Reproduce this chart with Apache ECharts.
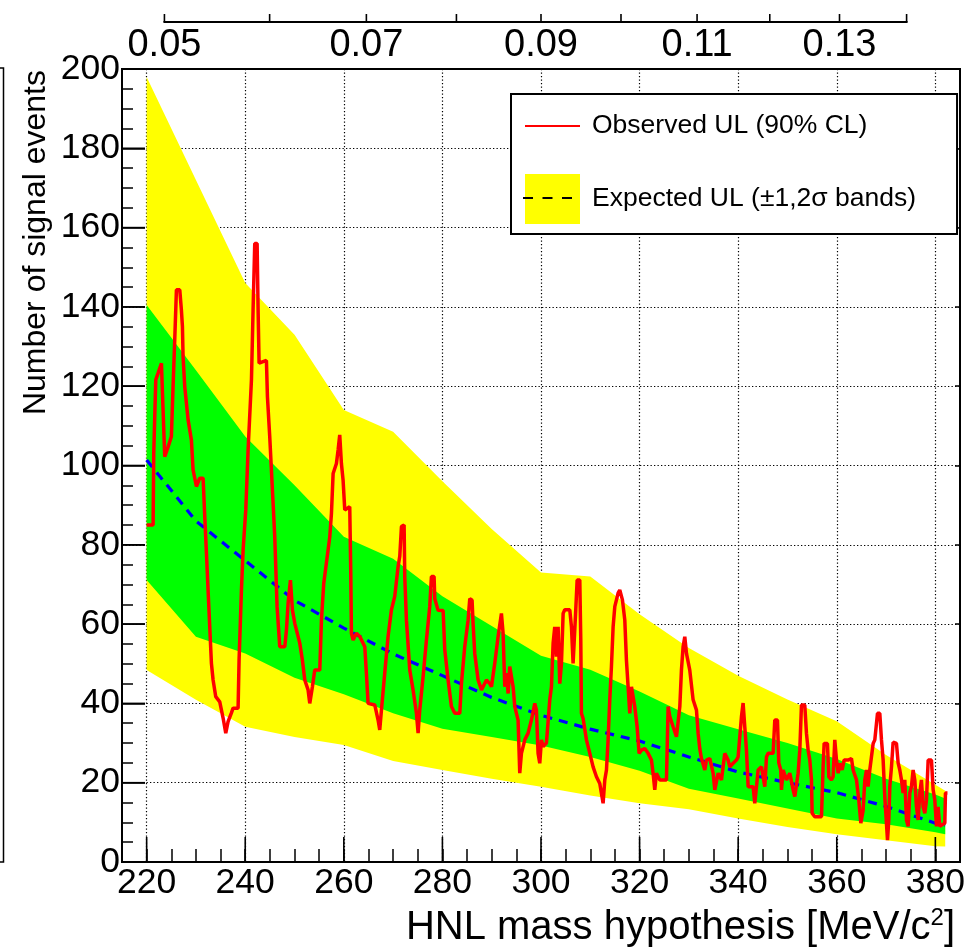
<!DOCTYPE html>
<html><head><meta charset="utf-8">
<script src="https://cdn.jsdelivr.net/npm/echarts@6/dist/echarts.min.js"></script>
<style>html,body{margin:0;padding:0;background:#fff}#c{width:971px;height:951px}</style>
</head><body><div id="c"></div>
<script>
// ---------------- data ----------------
const bandMass = [220,230,240,250,260,270,280,290,300,310,320,330,340,350,360,370,380,382];
const yellowHi = [198,172,146,133,114,108.5,96,84,73,72,62.5,54,47,41,35.5,27,19.5,18];
const greenHi  = [140.5,124,107.3,95,82,76.5,67,59.5,52,48.5,43,37,33.5,30,26,21,17,16];
const expected = [101.4,86,76,66,59,52.5,47,41.5,37,33.5,30.5,26.5,22.7,20,17.5,14,9.8,9.3];
const greenLo  = [71.1,56.8,52.6,46.5,42.3,37.5,33.6,31.5,29.4,26.5,23,18.5,16,13.5,11,9.5,7.5,7];
const yellowLo = [48.4,40.9,34.1,31.5,29.5,25.5,23.2,21,19,16.8,14.8,13.3,11,8.8,7,5.5,4,3.9];

const obsMass = [
 220.0,221.31,221.44,221.85,222.32,223.0,223.33,223.67,224.35,225.02,225.36,225.7,226.04,226.72,227.05,227.26,227.39,227.73,228.41,229.08,
 229.42,230.1,230.77,231.45,231.79,232.13,232.46,232.8,233.14,233.48,234.02,234.83,235.51,236.05,236.52,237.2,237.53,238.55,238.75,239.23,
 239.57,240.11,240.58,241.26,241.59,241.93,242.41,242.61,242.81,244.3,244.5,244.97,245.65,245.99,246.46,247.0,248.02,248.36,248.69,249.17,
 249.57,250.05,251.06,251.6,252.08,252.75,253.09,253.63,254.1,255.12,255.46,255.93,257.15,257.49,257.83,
 258.5,258.84,259.17,259.51,259.85,260.19,260.53,261.2,261.41,261.54,261.88,262.56,263.23,264.25,264.58,264.92,266.28,266.95,267.29,267.63,
 268.3,268.98,269.66,270.33,271.01,271.35,271.69,272.23,272.36,272.7,273.38,274.05,274.73,275.07,275.4,276.08,276.76,277.43,277.77,278.31,
 278.45,279.12,280.14,280.48,281.15,281.83,282.51,283.52,283.86,284.53,285.21,285.55,286.02,286.22,286.56,287.24,287.92,288.93,289.61,289.95,
 290.62,291.3,291.97,292.31,292.65,292.99,293.33,293.66,294.34,294.68,295.35,295.69,296.03,296.71,297.38,298.06,298.74,299.07,299.41,299.75,
 300.09,300.43,301.1,
 301.78,302.12,302.46,302.79,303.13,303.47,303.81,304.15,304.49,304.82,305.84,306.18,306.51,306.72,307.05,307.33,307.87,308.07,308.2,308.54,
 309.22,309.9,310.57,311.25,311.92,312.6,312.94,313.28,313.61,313.95,314.29,314.63,314.97,315.64,315.98,316.52,317.0,317.33,317.67,318.01,
 318.35,318.69,319.02,319.5,319.9,320.38,321.05,321.73,322.41,322.74,323.08,323.42,324.1,325.45,325.79,326.13,326.8,327.48,328.16,328.49,
 328.83,329.17,329.51,330.18,330.86,331.54,331.87,332.21,332.55,333.23,333.56,334.24,334.92,335.26,335.93,336.61,337.28,337.96,338.3,338.98,
 339.65,339.99,340.67,341.0,341.34,341.68,342.02,343.03,343.37,
 344.05,344.72,345.06,345.4,345.74,346.08,347.09,347.43,347.97,348.24,348.64,348.78,349.12,349.79,350.47,351.15,351.49,352.16,352.5,352.84,
 353.51,353.85,354.19,354.53,354.87,355.0,355.54,356.9,357.23,357.44,358.11,358.38,358.92,359.26,359.6,359.94,360.28,360.61,361.09,361.49,
 362.31,362.98,363.32,364.0,364.47,364.88,365.35,365.69,366.03,366.36,366.7,367.38,367.72,368.26,368.73,369.07,369.41,369.74,370.08,370.29,
 370.56,370.76,371.1,371.43,372.11,372.45,372.79,373.13,373.46,373.8,374.14,374.48,374.82,375.15,375.49,375.83,376.17,376.51,376.85,377.18,
 377.52,377.86,378.2,378.54,379.21,379.55,379.89,380.23,380.56,380.9,381.24,381.92,382.05,382.46
];
const obsValue = [
 85.0,85.0,103,121.6,123.3,125.8,114,102.2,104.7,107.3,119.9,131.7,144.3,144.3,139.2,135,127.4,119.9,111.5,106.4,
 98.9,94.7,96.8,96.8,87.1,77.9,68.6,59.3,50.1,45.9,41.7,40.4,36.3,32.5,35.4,37.6,38.8,38.8,50.9,68.6,
 78.7,88.8,103.9,121.6,139.2,156,156,139.2,125.8,126.5,117.4,107.3,90.5,82,64.4,54.3,54.3,58.5,65.2,71.1,
 63.6,60.2,55.2,50.9,45.9,43.4,40,44.2,48.4,48.4,61,70.3,82,87.9,98,
 100.5,103.9,107.7,100.5,96.3,88.8,88.8,89.6,72.8,57.7,56,57.7,56.9,54.3,47.6,40,39.6,35.8,33.3,38.3,
 47.6,56.9,63.6,67,74.5,77.1,84.6,85,72,61,48.4,43.4,37.5,32.5,38.3,46.7,56,64.4,72,72,
 66.4,63.5,63.4,53.5,45.9,39.2,37.5,37.5,45,54.3,61,66.4,66,60.2,52.6,45.9,43.4,45.9,45,44.2,
 50.1,56.9,62.7,57.7,44.2,47.6,42.5,49.3,44.2,39.2,35.8,22.4,27.4,30.8,32.5,35.8,40,38.3,27.4,24.9,
 30.8,29.1,30,
 40.9,44.2,55.2,59.3,51.8,59.3,45,50.1,62.7,63.6,63.6,59.3,50.1,55.2,63.6,71.1,71.1,56,37.5,36.2,
 30.8,27.4,24,21.5,19.8,14.8,20.7,23.2,30.8,40.9,49.3,59.3,64.4,67.8,68.6,66.1,61,50.9,44.2,37.5,
 44.2,44.2,39.2,34.1,27.4,28.2,28.6,27.4,25.7,22.4,18.2,22.4,20.7,20.7,39.2,36.7,34.1,31.6,39.2,48.4,
 54.3,56.8,52.6,48.4,40.9,38.3,32.5,28.6,26.1,23.2,25.7,26.1,22.4,18.2,22.4,20.7,27.4,25.7,24,24.9,
 25.7,26.5,36.7,40.1,34.1,28.2,19,19,14.8,
 23.2,24,21.5,19,26.5,27.4,27.4,35.8,35.8,25,23.2,18.2,23.2,20.7,22.4,18.2,16.5,22.4,28.2,39.6,
 39.6,32.5,28.2,25.7,20.7,12.3,11.4,11.4,24,29.9,29.9,21.5,20.7,21.5,30.8,25.7,22.4,24.9,23.2,25.7,
 25.7,26.1,23.2,20.7,15.6,9.8,13,20.7,23.2,19,23.2,29.9,30.8,37.5,37.5,30.8,25.7,16.5,9.8,5.5,
 10.6,19,24,30.2,29.9,25,23.2,20.7,17.4,20.7,10.6,9,17.4,19,23.2,20.7,13.9,10.6,17.4,20.7,
 13.9,12.3,15.6,25.7,25.7,18.2,15.6,9,13.9,9,9,9.8,17.4,17.4
];

const xTicks = [220,240,260,280,300,320,340,360,380];
const yTicks = [0,20,40,60,80,100,120,140,160,180,200];
const xMin = 215, xMax = 385, yMin = 0, yMax = 200, yStep = 20;
const topTickLabels = [0.05,0.06,0.07,0.08,0.09,0.10,0.11,0.12,0.13,0.14];
const topShownLabels = [0.05,0.07,0.09,0.11,0.13];

const FONT = 'Liberation Sans, Arial, Helvetica, sans-serif';
// top axis is in m^2 (GeV^2): position on the mass axis is 1000*sqrt(v)
const toMass = v => 1000 * Math.sqrt(v);
const topTickMass = topTickLabels.map(toMass);
const topLabelMass = topShownLabels.map(toMass);
const TOP_OFFSET = 47;

const chart = echarts.init(document.getElementById('c'), null, {renderer: 'canvas'});

function bandSeries(name, hi, lo, color, z) {
  return {
    type: 'custom', name: name, coordinateSystem: 'cartesian2d', xAxisIndex: 0, yAxisIndex: 0,
    z: z, silent: true, animation: false, clip: true,
    itemStyle: {color: color},
    data: bandMass.map((m, i) => [m, lo[i], hi[i]]),
    renderItem: function (params, api) {
      if (params.dataIndex !== 0) return null;
      const pts = [];
      for (let i = 0; i < bandMass.length; i++) pts.push(api.coord([bandMass[i], hi[i]]));
      for (let i = bandMass.length - 1; i >= 0; i--) pts.push(api.coord([bandMass[i], lo[i]]));
      return {type: 'polygon', shape: {points: pts}, style: {fill: color, stroke: null}};
    }
  };
}

// major tick marks drawn through the axes' scales
function tickSeries(name, data, build) {
  return {
    type: 'custom', name: name, coordinateSystem: 'cartesian2d', xAxisIndex: 0, yAxisIndex: 0,
    z: 10, silent: true, animation: false, clip: false, data: data,
    renderItem: function (params, api) {
      const c = api.coord([api.value(0), api.value(1)]);
      const s = build(c);
      return {type: 'line', shape: s, style: {stroke: '#000', lineWidth: 1.6}};
    }
  };
}

const dotted = {color: '#000', width: 1.2, type: [1.3, 2.2]};

const option = {
  animation: false,
  backgroundColor: '#fff',
  grid: {left: 122, right: 11, top: 69, bottom: 89, show: true, borderColor: '#000', borderWidth: 2, backgroundColor: 'transparent'},
  legend: {
    orient: 'vertical', left: 511, top: 94,
    padding: [12, 41, 10, 13], itemWidth: 55, itemHeight: 50, itemGap: 28,
    backgroundColor: '#fff', borderColor: '#000', borderWidth: 2,
    textStyle: {fontFamily: FONT, fontSize: 26.5, color: '#000', padding: [0, 0, 0, 7]},
    data: [
      {name: 'Observed UL (90% CL)', itemStyle: {opacity: 0}},
      {name: 'Expected UL (\u00b11,2\u03c3 bands)', icon: 'rect', itemStyle: {color: '#ffff00'}}
    ],
    selectedMode: false
  },
  xAxis: [
    { // main mass axis
      type: 'value', gridIndex: 0, min: xMin, max: xMax, position: 'bottom',
      axisLine: {show: true, onZero: false, lineStyle: {color: '#000', width: 2}},
      axisTick: {show: false, customValues: xTicks},
      axisLabel: {show: true, customValues: xTicks, fontFamily: FONT, fontSize: 35.5, color: '#000', margin: 3},
      splitLine: {show: true, lineStyle: dotted}
    },
    { // minor ticks every 5
      type: 'value', gridIndex: 0, min: xMin, max: xMax, interval: 5, position: 'bottom',
      axisLine: {show: false}, axisLabel: {show: false}, splitLine: {show: false},
      axisTick: {show: true, inside: true, length: 13, lineStyle: {color: '#000', width: 1.5}}
    },
    { // top axis (m^2)
      type: 'value', gridIndex: 0, min: xMin, max: xMax, position: 'top', offset: TOP_OFFSET,
      axisLine: {show: false}, splitLine: {show: false},
      axisTick: {show: false},
      axisLabel: {show: true, inside: true, customValues: topLabelMass, margin: 5,
        fontFamily: FONT, fontSize: 38, color: '#000',
        formatter: v => Math.pow(v / 1000, 2).toFixed(2)}
    }
  ],
  yAxis: [
    {
      type: 'value', gridIndex: 0, min: yMin, max: yMax, interval: yStep, position: 'left',
      axisLine: {show: true, onZero: false, lineStyle: {color: '#000', width: 2}},
      axisTick: {show: true, inside: true, length: 23, lineStyle: {color: '#000', width: 1.5}},
      minorTick: {show: true, splitNumber: 4, length: 11, lineStyle: {color: '#000', width: 1.5}},
      axisLabel: {show: true, fontFamily: FONT, fontSize: 35.5, color: '#000', margin: 2},
      splitLine: {show: true, lineStyle: dotted}
    },
    {
      type: 'value', gridIndex: 0, min: yMin, max: yMax, interval: yStep, position: 'right',
      axisLine: {show: false}, axisLabel: {show: false}, splitLine: {show: false},
      axisTick: {show: true, inside: true, length: 5, lineStyle: {color: '#000', width: 1.5}}
    }
  ],
  series: [
    bandSeries('Expected UL (\u00b11,2\u03c3 bands)', yellowHi, yellowLo, '#ffff00', 1),
    bandSeries('1 sigma band', greenHi, greenLo, '#00ff00', 2),
    {
      type: 'line', name: 'Expected UL', xAxisIndex: 0, yAxisIndex: 0, z: 3,
      data: bandMass.map((m, i) => [m, expected[i]]),
      symbol: 'none', showSymbol: false, silent: true,
      lineStyle: {color: '#0000ff', width: 3.2, type: [9, 7]}
    },
    {
      type: 'line', name: 'Observed UL (90% CL)', xAxisIndex: 0, yAxisIndex: 0, z: 4,
      data: obsMass.map((m, i) => [m, obsValue[i]]),
      symbol: 'none', showSymbol: false, silent: true,
      lineStyle: {color: '#ff0000', width: 3.5}, itemStyle: {color: '#ff0000'}
    },
    tickSeries('x major ticks', xTicks.map(v => [v, yMin]), c => ({x1: c[0], y1: c[1], x2: c[0], y2: c[1] - 25})),
    tickSeries('y major ticks', yTicks.map(v => [xMin, v]), c => ({x1: c[0], y1: c[1], x2: c[0] + 23, y2: c[1]})),
    tickSeries('top axis ticks', topTickMass.map(m => [m, yMax]),
      c => ({x1: c[0], y1: c[1] - TOP_OFFSET, x2: c[0], y2: c[1] - TOP_OFFSET - 8}))
  ]
};
chart.setOption(option);

// graphics: titles, top axis line, legend dashed sample, neighbour frame edge
const xa = chart.convertToPixel({xAxisIndex: 0}, topTickMass[0]);
const xb = chart.convertToPixel({xAxisIndex: 0}, topTickMass[topTickMass.length - 1]);
const yTop = chart.convertToPixel({yAxisIndex: 0}, yMax) - TOP_OFFSET;
chart.setOption({
  graphic: [
    {type: 'line', shape: {x1: xa - 1, y1: yTop, x2: xb + 1, y2: yTop}, style: {stroke: '#000', lineWidth: 2}},
    {type: 'polyline', shape: {points: [[0, 68], [3.5, 68], [3.5, 862], [0, 862]]}, style: {stroke: '#000', lineWidth: 1.5, fill: null}},
    {type: 'text', x: 36, y: 70, rotation: Math.PI / 2,
      style: {text: 'Number of signal events', fontFamily: FONT, fontSize: 32, fill: '#000', align: 'right', verticalAlign: 'middle'}},
    {type: 'text', x: 955, y: 928,
      style: {text: '{t|HNL mass hypothesis [MeV/c}{s|2}{t|]}', align: 'right', verticalAlign: 'middle',
        rich: {t: {fontFamily: FONT, fontSize: 40, fill: '#000', lineHeight: 44},
               s: {fontFamily: FONT, fontSize: 24, fill: '#000', verticalAlign: 'top', lineHeight: 44, padding: [0, 0, 14, 0]}}}},
    {type: 'line', z: 100, shape: {x1: 523, y1: 198, x2: 572, y2: 198}, style: {stroke: '#000', lineWidth: 2, lineDash: [10, 9.5]}}
  ]
});
</script>
</body></html>
